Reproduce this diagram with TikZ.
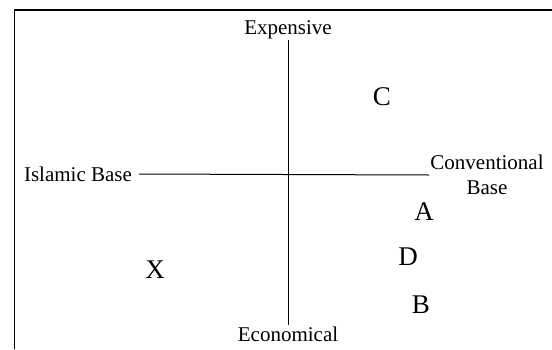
\documentclass[tikz,border=0pt]{standalone}
\usepackage{fontspec}
\setmainfont{Liberation Serif}
\usepackage{tikz}
\usetikzlibrary{positioning}

\begin{document}
\begin{tikzpicture}[x=1pt, y=-1pt,
    lbl/.style={font=\fontsize{21}{25}\selectfont, inner sep=1pt},
    pt/.style={font=\fontsize{27}{30}\selectfont, inner sep=0pt}]

  \useasboundingbox (0,0) rectangle (552,349);

  % frame (left and top edges only)
  \draw[line width=1.5pt] (14.5,349) -- (14.5,10) -- (552,10);

  % axis labels
  \node[lbl] (expensive)  at (288, 30)  {Expensive};
  \node[lbl] (economical) at (288, 334) {Economical};
  \node[lbl] (islamic)    at (78, 174)  {Islamic Base};
  \node[lbl, align=center] (conventional) at (487, 175) {Conventional\\Base};

  % axes
  \draw[line width=1pt] (expensive.south) -- (economical.north);
  \draw[line width=1pt] ([xshift=6pt]islamic.east) -- (conventional.west);

  % positions
  \node[pt] (C) at (382, 97)  {C};
  \node[pt] (A) at (424, 212) {A};
  \node[pt] (D) at (408, 257) {D};
  \node[pt] (B) at (421, 305) {B};
  \node[pt] (X) at (155, 270) {X};

\end{tikzpicture}
\end{document}
